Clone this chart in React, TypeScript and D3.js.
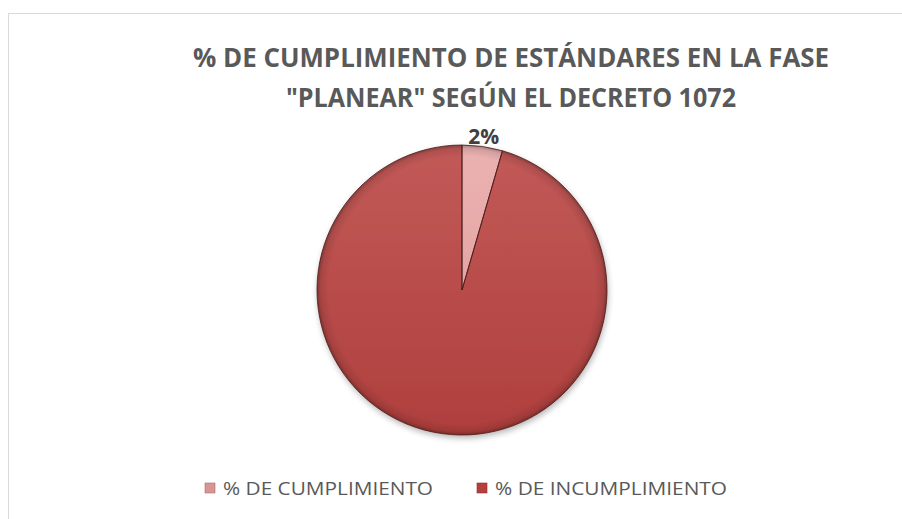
import React from "react";
import * as d3 from "d3";

const categories = ["% DE CUMPLIMIENTO", "% DE INCUMPLIMIENTO"];
const values = [4.5, 95.5];
const dataLabels = ["2%", ""];
const titleLines = ["% DE CUMPLIMIENTO DE ESTÁNDARES EN LA FASE", "\"PLANEAR\" SEGÚN EL DECRETO 1072"];
const topColors = ["#EBB2B1", "#C25A58"];
const bottomColors = ["#DC9998", "#AF3F3D"];
const legendColors = ["#D99594", "#B5403D"];

export default function App() {
  const W = 902, H = 519;
  const cx = 462, cy = 290, r = 145;
  const pie = d3.pie<number>().sort(null).value((d) => d);
  const arcs = pie(values);
  const arc = d3.arc<d3.PieArcDatum<number>>().innerRadius(0).outerRadius(r);
  const labelArc = d3.arc<d3.PieArcDatum<number>>().innerRadius(r + 10).outerRadius(r + 10);
  const font = "'Open Sans', 'Liberation Sans', sans-serif";
  const legendX = [205, 477];
  const legendTextLen = [210, 232];

  return (
    <svg width={W} height={H} style={{ position: "absolute", left: 0, top: 0 }}>
      <defs>
        {topColors.map((c, i) => (
          <linearGradient key={i} id={`g${i}`} x1={0} y1={-r} x2={0} y2={r} gradientUnits="userSpaceOnUse">
            <stop offset="0%" stopColor={c} />
            <stop offset="100%" stopColor={bottomColors[i]} />
          </linearGradient>
        ))}
        <radialGradient id="bevel" cx={0} cy={0} r={r} gradientUnits="userSpaceOnUse">
          <stop offset="0.92" stopColor="#000" stopOpacity="0" />
          <stop offset="0.975" stopColor="#000" stopOpacity="0.1" />
          <stop offset="1" stopColor="#000" stopOpacity="0.3" />
        </radialGradient>
        <filter id="sh" x="-20%" y="-20%" width="140%" height="140%">
          <feGaussianBlur in="SourceAlpha" stdDeviation="3" />
          <feOffset dx="1" dy="3" result="b" />
          <feComponentTransfer><feFuncA type="linear" slope="0.3" /></feComponentTransfer>
          <feMerge><feMergeNode /><feMergeNode in="SourceGraphic" /></feMerge>
        </filter>
      </defs>
      <rect x={0} y={0} width={W} height={H} fill="#fff" />
      <rect x={8.5} y={13.5} width={W + 10} height={H + 10} fill="#fff" stroke="#D9D9D9" strokeWidth={1} />
      {titleLines.map((t, i) => (
        <text key={i} x={511} y={67 + i * 40} textAnchor="middle" fontFamily={font} fontWeight="bold" fontSize={26}
          fill="#595959" textLength={i === 0 ? 636 : 450} lengthAdjust="spacingAndGlyphs">{t}</text>
      ))}
      <g transform={`translate(${cx},${cy})`}>
        <g filter="url(#sh)">
          {arcs.map((a, i) => (
            <path key={i} d={arc(a)!} fill={`url(#g${i})`} />
          ))}
        </g>
        <circle r={r} fill="url(#bevel)" />
        {arcs.map((a, i) => (
          <path key={i} d={arc(a)!} fill="none" stroke="#4A1A19" strokeWidth={0.8} />
        ))}
        {arcs.map((a, i) => {
          if (!dataLabels[i]) return null;
          const [lx, ly] = labelArc.centroid(a);
          return (
            <text key={i} x={lx} y={ly + 7} textAnchor="middle" fontFamily={font} fontWeight="bold" fontSize={21} fill="#404040">
              {dataLabels[i]}
            </text>
          );
        })}
      </g>
      {categories.map((c, i) => (
        <g key={i}>
          <rect x={legendX[i]} y={483} width={10} height={10} fill={legendColors[i]} stroke={d3.color(legendColors[i])!.darker(0.8).toString()} strokeWidth={0.6} />
          <text x={legendX[i] + 18} y={495} fontFamily={font} fontSize={18} fill="#595959" textLength={legendTextLen[i]} lengthAdjust="spacingAndGlyphs">{c}</text>
        </g>
      ))}
    </svg>
  );
}
